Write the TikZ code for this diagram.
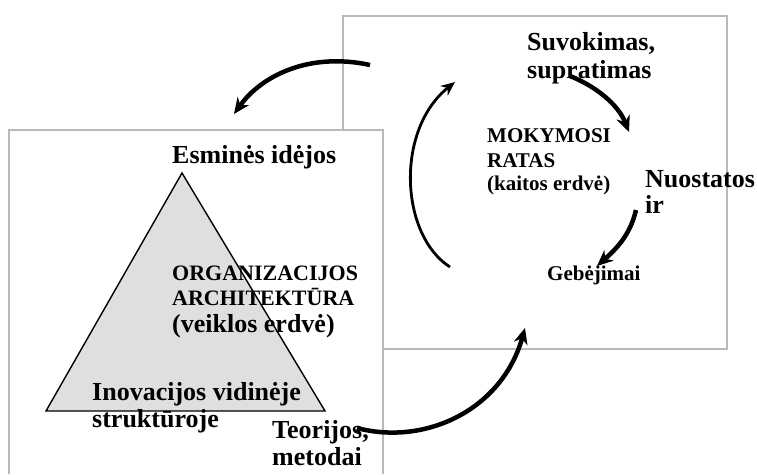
\documentclass[tikz,border=0pt]{standalone}
\usepackage{fontspec}
\setmainfont{Liberation Serif}
\usetikzlibrary{arrows.meta}
\begin{document}
\begin{tikzpicture}[x=1pt,y=-1pt,
  boxline/.style={draw=gray!55, line width=1.6pt, fill=white},
  big/.style={font=\fontsize{26}{30}\selectfont\bfseries, inner sep=0pt, anchor=base west},
  mid/.style={font=\fontsize{22}{26}\selectfont\bfseries, inner sep=0pt, anchor=base west},
  small/.style={font=\fontsize{21}{25}\selectfont\bfseries, inner sep=0pt, anchor=base west},
  thick arrow/.style={line width=4.5pt, -{Stealth[length=16pt,width=14pt]}},
  thin arrow/.style={line width=2.8pt, -{Stealth[length=14pt,width=12pt]}}
]
\useasboundingbox (0,0) rectangle (757,474);
\fill[white] (0,0) rectangle (757,474);
% boxes
\draw[boxline] (343,16) rectangle (727,349);
\draw[boxline] (9,474) -- (9,130) -- (383,130) -- (383,474);
% triangle
\draw[line width=1.4pt, fill=gray!25] (182,173) -- (325,411) -- (46,411) -- cycle;
% texts
\node[big] (esm) at (172,163) {Esminės idėjos};
\node[mid] (org1) at (172,280) {ORGANIZACIJOS};
\node[mid] (org2) at (172,305) {ARCHITEKTŪRA};
\node[big] (org3) at (172,332) {(veiklos erdvė)};
\node[big] (ino1) at (92,400) {Inovacijos vidinėje};
\node[big] (ino2) at (92,427) {struktūroje};
\node[big] (teo1) at (272,438) {Teorijos,};
\node[big] (teo2) at (272,465) {metodai};
\node[big] (suv1) at (527,50) {Suvokimas,};
\node[big] (suv2) at (527,78) {supratimas};
\node[small] (mok1) at (487,142) {MOKYMOSI};
\node[small] (mok2) at (487,167) {RATAS};
\node[small] (mok3) at (487,190) {(kaitos erdvė)};
\node[big] (nuo1) at (645,187) {Nuostatos};
\node[big] (nuo2) at (645,213) {ir};
\node[small] (geb) at (547,280) {Gebėjimai};
% arrow end points
\coordinate (a1s) at (370,65);
\coordinate (a1e) at (234,114);
\coordinate (a2s) at (570,76);
\coordinate (a2e) at (629,132);
\coordinate (a3s) at (636,210);
\coordinate (a3e) at (597,266);
\coordinate (a4s) at (450,267);
\coordinate (a4e) at (455,82);
\coordinate (a5s) at (357,428);
\coordinate (a5e) at (525,328);
% arrows
\draw[thick arrow] (a1s) .. controls (310,52) and (262,75) .. (a1e);
\draw[thick arrow] (a2s) .. controls (595,86) and (618,104) .. (a2e);
\draw[thick arrow] (a3s) .. controls (630,236) and (615,250) .. (a3e);
\draw[thin arrow] (a4s) .. controls (400,235) and (395,130) .. (a4e);
\draw[thick arrow] (a5s) .. controls (425,446) and (502,410) .. (a5e);
\end{tikzpicture}
\end{document}
